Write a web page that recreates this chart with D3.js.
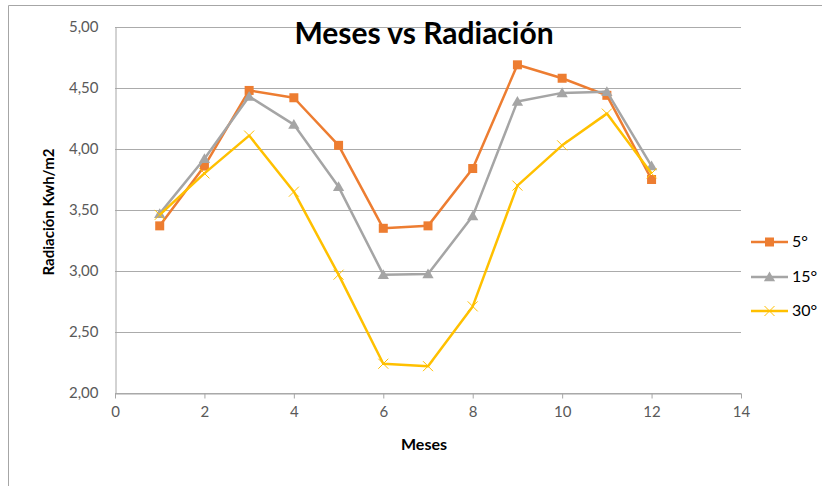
<!DOCTYPE html>
<html>
<head>
<meta charset="utf-8">
<script src="https://cdn.jsdelivr.net/npm/d3@7"></script>
<style>
  body { margin: 0; background: #fff; }
  svg text { font-family: Lato, "Open Sans", sans-serif; }
</style>
</head>
<body>
<div id="chart"></div>
<script>
// DATA
const months = [1, 2, 3, 4, 5, 6, 7, 8, 9, 10, 11, 12];
const rad5 = [3.37, 3.86, 4.48, 4.42, 4.03, 3.35, 3.37, 3.84, 4.69, 4.58, 4.44, 3.75];
const rad15 = [3.47, 3.92, 4.43, 4.20, 3.69, 2.97, 2.975, 3.45, 4.39, 4.46, 4.47, 3.86];
const rad30 = [3.46, 3.80, 4.11, 3.65, 2.97, 2.24, 2.22, 2.71, 3.70, 4.03, 4.29, 3.80];
const seriesNames = ["5°", "15°", "30°"];
const xTicks = [0, 2, 4, 6, 8, 10, 12, 14];
const yTicks = [2, 2.5, 3, 3.5, 4, 4.5, 5];

const width = 822, height = 486,
  margin = { top: 27, left: 115, right: 81, bottom: 93 };

const colors = ["#ED7D31", "#A5A5A5", "#FFC000"];
const shapes = ["square", "triangle", "cross"];

const series = seriesNames.map((name, i) => ({
  name,
  color: colors[i],
  shape: shapes[i],
  values: months.map((m, j) => ({ x: m, y: [rad5, rad15, rad30][i][j] }))
}));

const svg = d3.select("#chart").append("svg")
  .attr("width", width)
  .attr("height", height);

// outer frame (cropped)
svg.append("path")
  .attr("d", `M8.5,${height} V5.5 H${width}`)
  .attr("fill", "none")
  .attr("stroke", "#a6a6a6")
  .attr("stroke-width", 1);

// SCALES
const xScale = d3.scaleLinear().domain([0, 14]).range([margin.left, width - margin.right]);
const yScale = d3.scaleLinear().domain([2, 5]).range([height - margin.bottom, margin.top]);

// gridlines
svg.append("g")
  .selectAll("line")
  .data(yTicks)
  .join("line")
  .attr("x1", margin.left)
  .attr("x2", width - margin.right)
  .attr("y1", d => Math.round(yScale(d)) + 0.5)
  .attr("y2", d => Math.round(yScale(d)) + 0.5)
  .attr("stroke", "#ababab")
  .attr("stroke-width", 1.2);

// AXES
const fmt = d => d3.format(".2f")(d).replace(".", ",");

const yAxis = svg.append("g")
  .attr("transform", `translate(${margin.left + 0.5},0)`)
  .call(d3.axisLeft(yScale).tickValues(yTicks).tickFormat(fmt).tickSize(0).tickPadding(17));
yAxis.select(".domain").attr("stroke", "#a6a6a6");
yAxis.selectAll("text").attr("font-size", 15).attr("fill", "#595959")
  .attr("font-family", "Lato, sans-serif");

const xAxis = svg.append("g")
  .attr("transform", `translate(0,${Math.round(yScale(2)) + 0.5})`)
  .call(d3.axisBottom(xScale).tickValues(xTicks).tickSizeInner(5).tickSizeOuter(0).tickPadding(8));
xAxis.select(".domain").attr("stroke", "#a6a6a6");
xAxis.selectAll(".tick line").attr("stroke", "#a6a6a6");
xAxis.selectAll("text").attr("font-size", 15).attr("fill", "#595959")
  .attr("font-family", "Lato, sans-serif");

// axis titles
svg.append("text")
  .attr("x", 424).attr("y", 450)
  .attr("text-anchor", "middle")
  .attr("font-size", 16).attr("font-weight", "bold")
  .text("Meses");

svg.append("text")
  .attr("transform", `translate(54,212) rotate(-90)`)
  .attr("text-anchor", "middle")
  .attr("font-size", 15).attr("font-weight", "bold")
  .text("Radiación Kwh/m2");

// title
svg.append("text")
  .attr("x", 424).attr("y", 44)
  .attr("text-anchor", "middle")
  .attr("font-size", 30).attr("font-weight", "bold")
  .text("Meses vs Radiación");

// LINES
const line = d3.line().x(d => xScale(d.x)).y(d => yScale(d.y));

function marker(g, shape, color, x, y) {
  if (shape === "square") {
    g.append("rect").attr("x", x - 4.5).attr("y", y - 4.5)
      .attr("width", 9).attr("height", 9).attr("fill", color);
  } else if (shape === "triangle") {
    g.append("path").attr("d", d3.symbol(d3.symbolTriangle, 55)())
      .attr("transform", `translate(${x},${y + 1})`).attr("fill", color);
  } else {
    g.append("path").attr("d", `M${x - 5},${y - 5}L${x + 5},${y + 5}M${x - 5},${y + 5}L${x + 5},${y - 5}`)
      .attr("stroke", color).attr("stroke-width", 1).attr("fill", "none");
  }
}

series.forEach(s => {
  const g = svg.append("g");
  g.append("path")
    .datum(s.values)
    .attr("d", line)
    .attr("fill", "none")
    .attr("stroke", s.color)
    .attr("stroke-width", 2.5)
    .attr("stroke-linejoin", "round");
  s.values.forEach(d => marker(g, s.shape, s.color, xScale(d.x), yScale(d.y)));
});

// LEGEND
const legendY = [242, 277, 311];
series.forEach((s, i) => {
  const g = svg.append("g");
  g.append("line")
    .attr("x1", 751).attr("x2", 788)
    .attr("y1", legendY[i]).attr("y2", legendY[i])
    .attr("stroke", s.color).attr("stroke-width", 2.5);
  marker(g, s.shape, s.color, 769.5, legendY[i]);
  g.append("text")
    .attr("x", 792).attr("y", legendY[i] + 5)
    .attr("font-size", 16).attr("fill", "#000")
    .text(s.name);
});
</script>
</body>
</html>
